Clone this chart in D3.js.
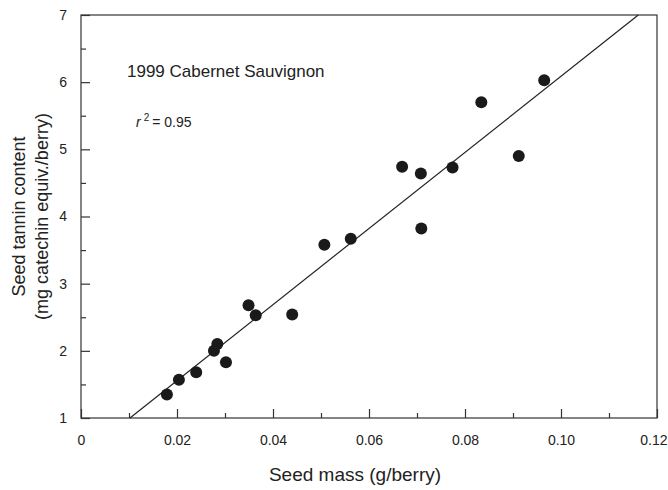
<!DOCTYPE html>
<html>
<head>
    <title>Seed tannin vs seed mass</title>
    <script src="https://d3js.org/d3.v7.min.js"></script>
    <style>
        body { margin: 0; background: #fff; }
        svg text { font-family: "Liberation Sans Narrow", "Liberation Sans", Arial, sans-serif; fill: #222; }
        .dot { fill: #1a1a1a; }
    </style>
</head>
<body>
    <script>
        // data (g/berry, mg catechin equiv./berry)
        const seedMass = [0.0179, 0.0204, 0.0240, 0.0277, 0.0284, 0.0302, 0.0349, 0.0364, 0.0440,
                          0.0507, 0.0562, 0.0669, 0.0708, 0.0709, 0.0774, 0.0834, 0.0912, 0.0965];
        const tannin = [1.35, 1.57, 1.68, 2.00, 2.10, 1.83, 2.68, 2.53, 2.54,
                        3.58, 3.67, 4.74, 4.64, 3.82, 4.73, 5.70, 4.90, 6.03];
        // regression line end points
        const fitX = [0.0102, 0.1161];
        const fitY = [1, 7];
        const xTicks = [0, 0.02, 0.04, 0.06, 0.08, 0.10, 0.12];
        const xTickLabels = ["0", "0.02", "0.04", "0.06", "0.08", "0.10", "0.12"];
        const yTicks = [1, 2, 3, 4, 5, 6, 7];

        const W = 668, H = 490;
        const margin = { top: 15, right: 11, bottom: 72, left: 81 };
        const width = W - margin.left - margin.right;
        const height = H - margin.top - margin.bottom;

        const svg = d3.select("body").append("svg")
            .attr("width", W)
            .attr("height", H);
        const g = svg.append("g")
            .attr("transform", `translate(${margin.left},${margin.top})`);

        const x = d3.scaleLinear().domain([0, 0.12]).range([0, width]);
        const y = d3.scaleLinear().domain([1, 7]).range([height, 0]);

        // frame
        g.append("rect")
            .attr("width", width)
            .attr("height", height)
            .attr("fill", "none")
            .attr("stroke", "#333")
            .attr("stroke-width", 1.2);

        // ticks point inward: minor ones half way between
        const xMinor = d3.range(0.01, 0.12, 0.02);
        const yMinor = d3.range(1.5, 7, 1);

        g.append("g")
            .attr("transform", `translate(0,${height})`)
            .call(d3.axisBottom(x).tickValues(xTicks).tickSize(-9).tickPadding(17)
                .tickFormat((d, i) => xTickLabels[i]))
            .call(a => a.select(".domain").remove())
            .call(a => a.selectAll("text").attr("font-size", 14))
            // last label is pushed left so it stays inside the page
            .call(a => a.selectAll(".tick:last-of-type text").attr("text-anchor", "end").attr("x", 10));
        g.append("g")
            .attr("transform", `translate(0,${height})`)
            .call(d3.axisBottom(x).tickValues(xMinor).tickSize(-5).tickFormat(""))
            .call(a => a.select(".domain").remove());

        g.append("g")
            .call(d3.axisLeft(y).tickValues(yTicks).tickSize(-9).tickPadding(14).tickFormat(d3.format("d")))
            .call(a => a.select(".domain").remove())
            .call(a => a.selectAll("text").attr("font-size", 14));
        g.append("g")
            .call(d3.axisLeft(y).tickValues(yMinor).tickSize(-5).tickFormat(""))
            .call(a => a.select(".domain").remove());

        g.selectAll(".tick line").attr("stroke", "#333").attr("stroke-width", 1.2);

        // regression line
        g.append("line")
            .attr("x1", x(fitX[0])).attr("y1", y(fitY[0]))
            .attr("x2", x(fitX[1])).attr("y2", y(fitY[1]))
            .attr("stroke", "#222")
            .attr("stroke-width", 1.2);

        // points
        g.selectAll(".dot")
            .data(seedMass.map((m, i) => ({ m, t: tannin[i] })))
            .join("circle")
            .attr("class", "dot")
            .attr("cx", d => x(d.m))
            .attr("cy", d => y(d.t))
            .attr("r", 6);

        // annotations
        g.append("text")
            .attr("x", 46).attr("y", 62)
            .attr("font-size", 17)
            .text("1999 Cabernet Sauvignon");
        const r2 = g.append("text")
            .attr("x", 55).attr("y", 112)
            .attr("font-size", 14);
        r2.append("tspan").attr("font-style", "italic").text("r");
        r2.append("tspan").attr("font-size", 10).attr("dx", 3).attr("dy", -6).text("2");
        r2.append("tspan").attr("dy", 6).attr("dx", 3).text("= 0.95");

        // axis titles
        svg.append("text")
            .attr("x", margin.left + width / 2 - 14)
            .attr("y", 481)
            .attr("text-anchor", "middle")
            .attr("font-size", 19)
            .text("Seed mass (g/berry)");

        const yTitle = svg.append("text")
            .attr("transform", `translate(25,${margin.top + height / 2}) rotate(-90)`)
            .attr("text-anchor", "middle")
            .attr("font-size", 18);
        yTitle.append("tspan").attr("x", 0).attr("y", 0).text("Seed tannin content");
        yTitle.append("tspan").attr("x", 0).attr("y", 23).text("(mg catechin equiv./berry)");
    </script>
</body>
</html>
